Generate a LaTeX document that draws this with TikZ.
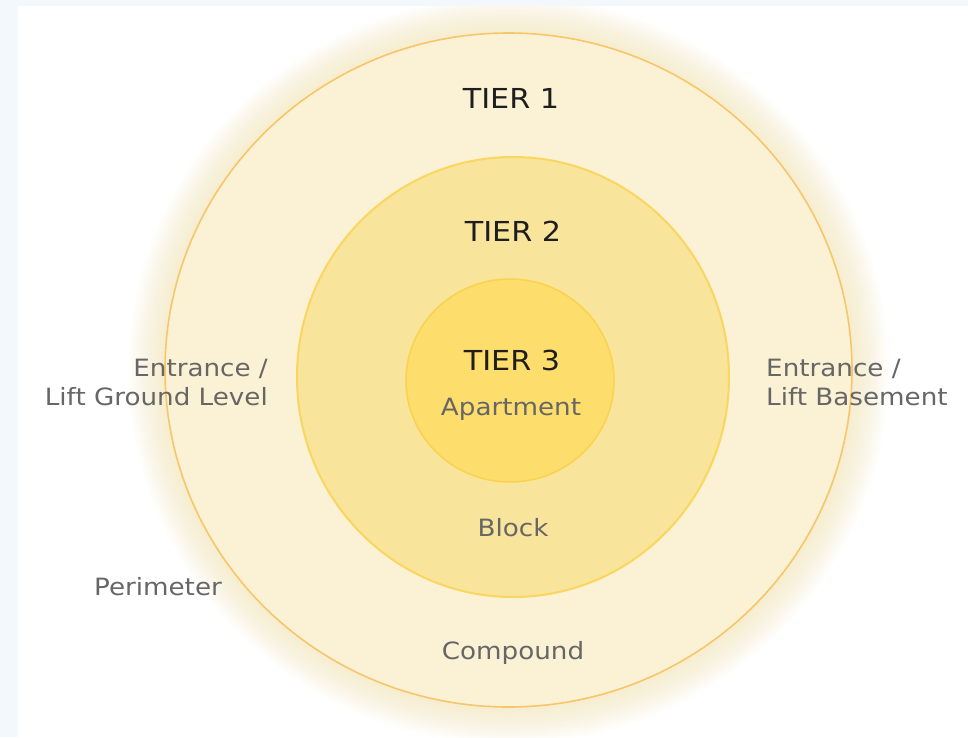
\documentclass[tikz,border=0pt]{standalone}
\usepackage{fontspec}
\setmainfont{DejaVu Sans}[FakeStretch=1.1]
\definecolor{backblue}{HTML}{F3F8FC}
\definecolor{glow}{HTML}{F7E2A4}
\definecolor{tierone}{HTML}{FBF1D5}
\definecolor{tiertwo}{HTML}{F9E49B}
\definecolor{tierthree}{HTML}{FDDD6C}
\definecolor{ringone}{HTML}{F8C66A}
\definecolor{ringtwo}{HTML}{FAD65E}
\definecolor{ringthree}{HTML}{F9D24E}
\definecolor{tiertext}{HTML}{1E1E1E}
\definecolor{labeltext}{HTML}{666666}
\tikzset{
  tier/.style={text=tiertext, inner sep=0pt, font=\fontsize{27.5}{30}\selectfont},
  place/.style={text=labeltext, inner sep=0pt, font=\fontsize{23.8}{29}\selectfont}
}

\begin{document}
\begin{tikzpicture}[x=1pt,y=-1pt]
\useasboundingbox (0,0) rectangle (968,737);
\fill[backblue] (0,0) rectangle (968,737);
\fill[white] (18,6) rectangle (968,737);
% soft glow round the outer ring
\begin{scope}
\clip (18,6) rectangle (968,737);
\foreach \r in {3,6,...,36}
  \fill[glow, opacity=.05] (508.5,370) ellipse [x radius=343.5+\r, y radius=337+\r];
\end{scope}
\filldraw[fill=tierone, draw=ringone, line width=1.6] (508.5,370) ellipse [x radius=343.5, y radius=337];
\filldraw[fill=tiertwo, draw=ringtwo, line width=2] (513,377) ellipse [x radius=216, y radius=220];
\filldraw[fill=tierthree, draw=ringthree, line width=1.5] (510,380.5) ellipse [x radius=104, y radius=101.5];

\node[tier] (tier1) at (511,98) {TIER 1};
\node[tier] (tier2) at (513,231) {TIER 2};
\node[tier] (tier3) at (512,360) {TIER 3};
\node[place] (apartment) at (511,409) {Apartment};
\node[place] (block) at (513,528) {Block};
\node[place] (compound) at (513,653) {Compound};
\node[place] (perimeter) at (158,587) {Perimeter};
\node[place, align=right, anchor=east] (groundlevel) at (268,382) {Entrance /\\Lift Ground Level};
\node[place, align=left, anchor=west] (basement) at (766,382) {Entrance /\\Lift Basement};
\end{tikzpicture}
\end{document}
